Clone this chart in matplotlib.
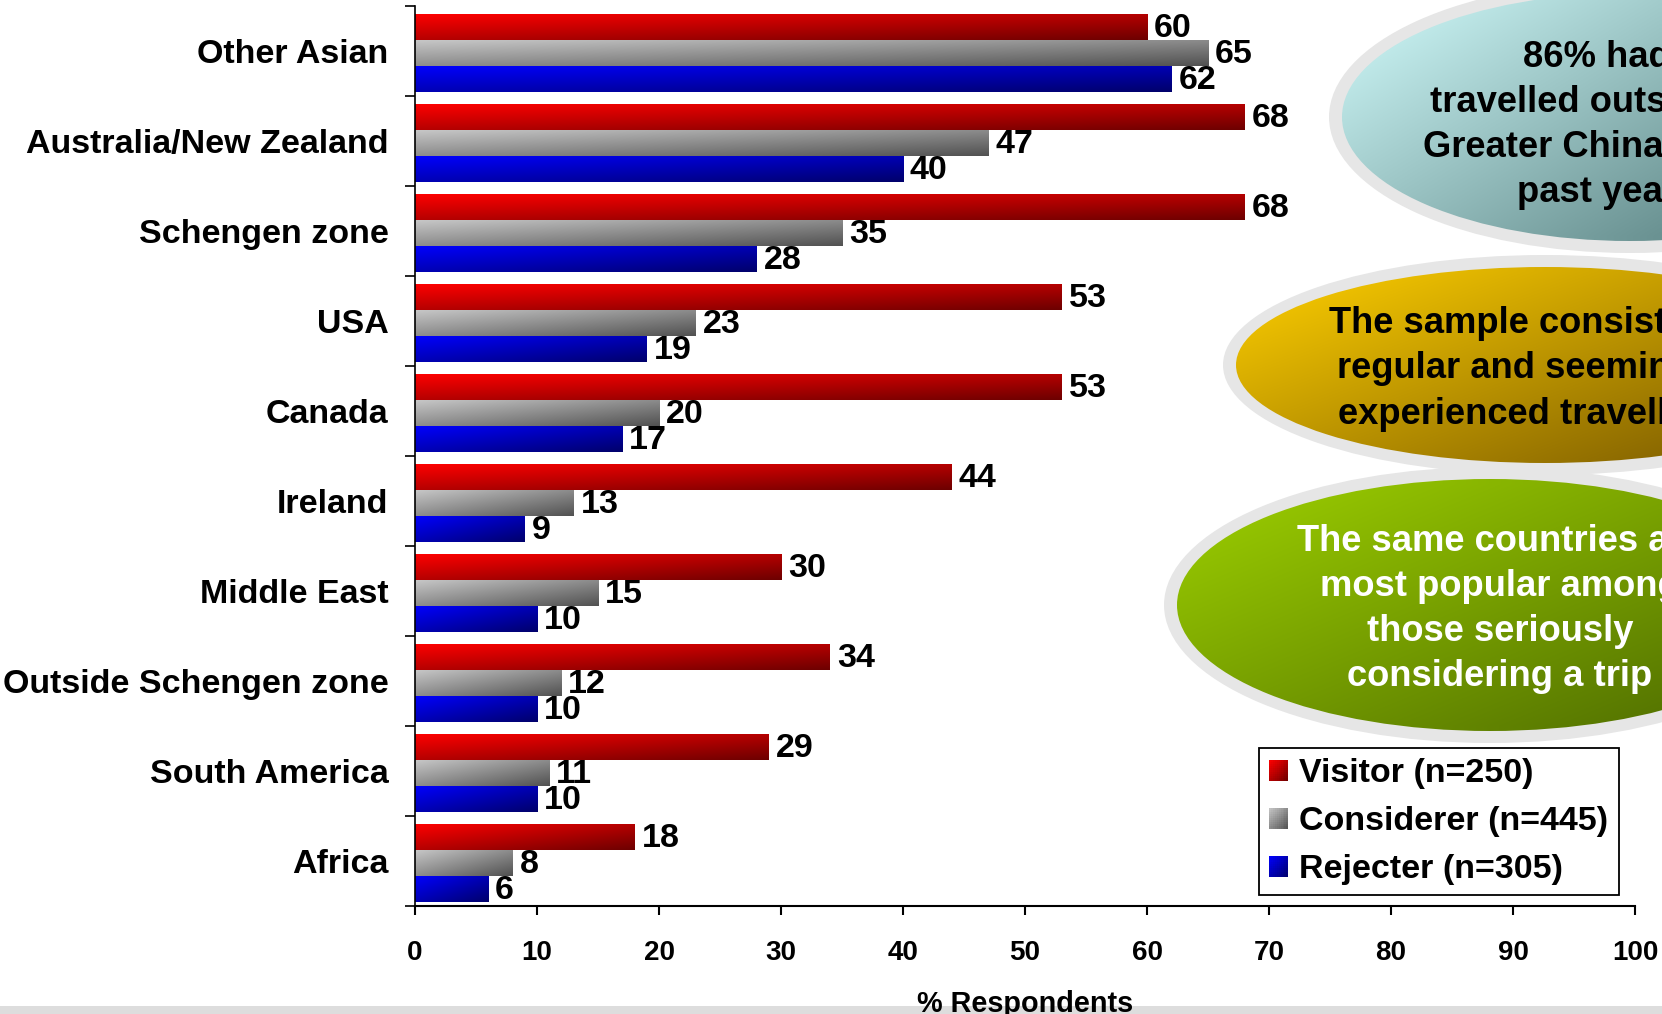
import numpy as np
import matplotlib
matplotlib.use("Agg")
import matplotlib.pyplot as plt
from matplotlib.patches import Ellipse, Rectangle
from matplotlib.legend_handler import HandlerBase
from matplotlib.colors import to_rgb

plt.rcParams["font.family"] = ["Liberation Sans", "DejaVu Sans"]
plt.rcParams["font.weight"] = "bold"

# --- data ---
categories = ["Other Asian", "Australia/New Zealand", "Schengen zone", "USA", "Canada",
              "Ireland", "Middle East", "Outside Schengen zone", "South America", "Africa"]
visitor = [60, 68, 68, 53, 53, 44, 30, 34, 29, 18]
considerer = [65, 47, 35, 23, 20, 13, 15, 12, 11, 8]
rejecter = [62, 40, 28, 19, 17, 9, 10, 10, 10, 6]
series_names = ["Visitor (n=250)", "Considerer (n=445)", "Rejecter (n=305)"]
x_ticks = [0, 10, 20, 30, 40, 50, 60, 70, 80, 90, 100]

callout_1 = ["86% had", "travelled outside of", "Greater China in the", "past year"]
callout_2 = ["The sample consists of", "regular and seemingly", "experienced travellers"]
callout_3 = ["The same countries are", "most popular among", "those seriously", "considering a trip"]

# gradient endpoints (top-left -> bottom-right)
bar_colors = [("#FF0000", "#6E0000"), ("#C8C8C8", "#525252"), ("#0000FF", "#00006C")]


def gradient(c0, c1, w=80, h=24, wu=0.5):
    u = np.linspace(0, 1, w)[None, :]
    v = np.linspace(0, 1, h)[:, None]
    t = wu * u + (1 - wu) * v
    a, b = np.array(to_rgb(c0)), np.array(to_rgb(c1))
    return a + (b - a) * t[..., None]


class GradientHandler(HandlerBase):
    def __init__(self, c0, c1, n=10):
        super().__init__()
        self.c0, self.c1, self.n = np.array(to_rgb(c0)), np.array(to_rgb(c1)), n

    def create_artists(self, legend, orig_handle, xdescent, ydescent, width, height, fontsize, trans):
        n = self.n
        out = []
        for i in range(n):
            for j in range(n):
                t = ((i + 0.5) / n + (j + 0.5) / n) / 2
                col = self.c0 + (self.c1 - self.c0) * t
                r = Rectangle((-xdescent + i * width / n, -ydescent + height - (j + 1) * height / n),
                              width / n * 1.02, height / n * 1.02, facecolor=col, edgecolor="none",
                              transform=trans)
                out.append(r)
        return out


fig = plt.figure(figsize=(16.62, 10.14), dpi=100)

# background layer in pixel coords: callout ellipses and bottom band
bg = fig.add_axes([0, 0, 1, 1], zorder=0)
bg.axis("off")

callouts = [
    # (cx, cy, a, b, c0, c1, text lines, text x, text y, text colour)
    (1630, 117, 288, 124, "#D2FCFC", "#6A9292", callout_1, 1597, 125, "black"),
    (1545, 365, 309, 98, "#FFD000", "#8A6800", callout_2, 1530, 369, "black"),
    (1490, 605, 313, 126, "#9ED100", "#557400", callout_3, 1500, 609, "white"),
]
for cx, cy, a, b, c0, c1, lines, tx, ty, tc in callouts:
    halo = Ellipse((cx, cy), 2 * (a + 13), 2 * (b + 12), facecolor="#E6E6E6",
                   edgecolor="none", zorder=1)
    bg.add_patch(halo)
    inner = Ellipse((cx, cy), 2 * a, 2 * b, facecolor="none", edgecolor="none", zorder=1)
    bg.add_patch(inner)
    x0, x1 = cx - a, min(cx + a, 1662)
    im = bg.imshow(gradient(c0, c1, wu=0.45), extent=(x0, x1, cy + b, cy - b),
                   aspect="auto", interpolation="bilinear", zorder=2)
    im.set_clip_path(inner)
    bg.text(tx, ty, "\n".join(lines), ha="center", va="center", multialignment="center",
            fontsize=26.2, fontweight="bold", color=tc, linespacing=1.38, zorder=3)

bg.add_patch(Rectangle((0, 1006), 1662, 8, facecolor="#DDDDDD", edgecolor="none", zorder=1))
bg.set_xlim(0, 1662)
bg.set_ylim(1014, 0)

# main chart
ax = fig.add_axes([0.2497, 0.1065, 0.7341, 0.8876], zorder=1)
ax.patch.set_visible(False)

y = np.arange(len(categories))
h = 0.29
handles = []
handler_map = {}
for i, (vals, name, (c0, c1)) in enumerate(zip([visitor, considerer, rejecter], series_names, bar_colors)):
    bars = ax.barh(y + (i - 1) * h + 0.02, vals, height=h, color="none", edgecolor="none", label=name)
    for p in bars:
        px, pw, py, ph = p.get_x(), p.get_width(), p.get_y(), p.get_height()
        im = ax.imshow(gradient(c0, c1), extent=(px, px + pw, py + ph, py),
                       aspect="auto", interpolation="bilinear", zorder=2)
        im.set_clip_path(p)
    labels = ax.bar_label(bars, padding=5, fontsize=24.5, fontweight="bold", color="black")
    for t in labels:
        t.xyann = (t.xyann[0], t.xyann[1] - 1.5)
    proxy = Rectangle((0, 0), 1, 1)
    handles.append(proxy)
    handler_map[proxy] = GradientHandler(c0, c1)

ax.set_xlim(0, 100)
ax.set_ylim(len(categories) - 0.5, -0.5)
ax.set_aspect("auto")

ax.set_yticks(np.arange(-0.5, len(categories), 1))
ax.set_yticklabels([])
ax.set_yticks(y, minor=True)
ax.set_yticklabels(categories, minor=True, fontsize=24.5, fontweight="bold")
ax.tick_params(axis="y", which="major", direction="out", length=7.5, width=1.2, color="black")
ax.tick_params(axis="y", which="minor", length=0, pad=19)

ax.set_xticks(x_ticks)
ax.set_xticklabels([str(t) for t in x_ticks], fontsize=20, fontweight="bold")
ax.tick_params(axis="x", direction="out", length=6.5, width=1.5, pad=18, color="black")

for s in ["top", "right"]:
    ax.spines[s].set_visible(False)
ax.spines["left"].set_linewidth(1.2)
ax.spines["bottom"].set_linewidth(1.5)

ax.set_xlabel("% Respondents", fontsize=20.8, fontweight="bold")
ax.xaxis.set_label_coords(0.5, -0.093)

leg = ax.legend(handles, series_names, handler_map=handler_map, loc="upper left",
                bbox_to_anchor=(1259 / 1662, 1 - 748 / 1014), bbox_transform=fig.transFigure,
                prop=dict(family="Liberation Sans", weight="bold", size=24.5),
                frameon=True, fancybox=False, edgecolor="black", framealpha=1,
                borderpad=0.3, handlelength=0.56, handleheight=0.56, handletextpad=0.33,
                labelspacing=0.5, borderaxespad=0)
leg.get_frame().set_linewidth(1.3)

fig.savefig("out.png", dpi=100)
